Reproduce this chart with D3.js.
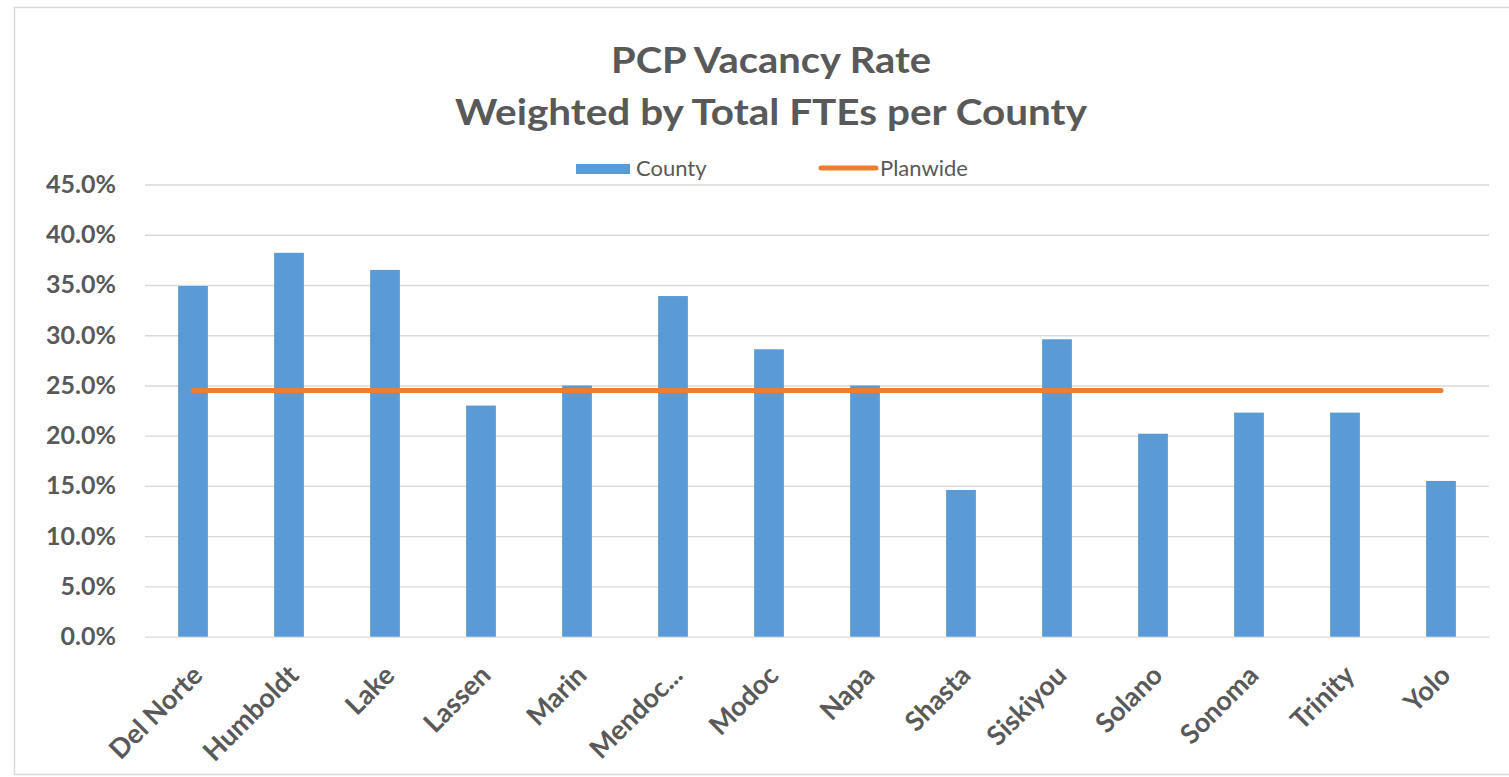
<!DOCTYPE html>
<html>
<head>
<meta charset="utf-8">
<script src="https://cdn.jsdelivr.net/npm/d3@7"></script>
<style>
  html, body { margin: 0; padding: 0; background: #ffffff; }
  svg { display: block; }
  text { font-family: Lato, "Open Sans", sans-serif; fill: #595959; }
</style>
</head>
<body>
<svg id="chart" width="1509" height="777"></svg>
<script>
// County-level PCP vacancy rates (percent) and the plan-wide rate
const counties = ["Del Norte", "Humboldt", "Lake", "Lassen", "Marin", "Mendoc...", "Modoc",
                  "Napa", "Shasta", "Siskiyou", "Solano", "Sonoma", "Trinity", "Yolo"];
const countyRate = [34.9, 38.2, 36.5, 23.0, 25.0, 33.9, 28.6, 25.0, 14.6, 29.6, 20.2, 22.3, 22.3, 15.5];
const planwideRate = [24.5, 24.5, 24.5, 24.5, 24.5, 24.5, 24.5, 24.5, 24.5, 24.5, 24.5, 24.5, 24.5, 24.5];
const yTicks = [0, 5, 10, 15, 20, 25, 30, 35, 40, 45];
const titleLines = ["PCP Vacancy Rate", "Weighted by Total FTEs per County"];
const seriesNames = ["County", "Planwide"];

const BLUE = "#5B9BD5";
const ORANGE = "#ED7D31";
const GRID = "#d9d9d9";

const svg = d3.select("#chart");

// chart frame
svg.append("rect")
  .attr("x", 14.5).attr("y", 7.5)
  .attr("width", 1520).attr("height", 767)
  .attr("fill", "none").attr("stroke", GRID).attr("stroke-width", 1.5);

const plot = { left: 145, right: 1489, top: 184.5, bottom: 636.7 };

const x = d3.scaleBand()
  .domain(counties)
  .range([plot.left, plot.right])
  .paddingInner(0.69)
  .paddingOuter(0.345);

const y = d3.scaleLinear()
  .domain([0, 45])
  .range([plot.bottom, plot.top]);

// gridlines + y tick labels
const yAxis = d3.axisLeft(y)
  .tickValues(yTicks)
  .tickSize(-(plot.right - plot.left))
  .tickPadding(29)
  .tickFormat(d => d.toFixed(1) + "%");

const gy = svg.append("g")
  .attr("transform", `translate(${plot.left},0)`)
  .call(yAxis);
gy.select(".domain").remove();
gy.selectAll(".tick line").attr("stroke", GRID).attr("stroke-width", 1.3);
gy.selectAll(".tick text")
  .attr("font-size", 25)
  .attr("font-weight", 700)
  .attr("fill", "#595959");

// bars
svg.append("g").selectAll("rect")
  .data(counties)
  .join("rect")
  .attr("x", d => x(d))
  .attr("width", x.bandwidth())
  .attr("y", (d, i) => y(countyRate[i]))
  .attr("height", (d, i) => y(0) - y(countyRate[i]))
  .attr("fill", BLUE);

// plan-wide line across category centres
const line = d3.line()
  .x((d, i) => x(counties[i]) + x.bandwidth() / 2)
  .y(d => y(d));
svg.append("path")
  .datum(planwideRate)
  .attr("d", line)
  .attr("fill", "none")
  .attr("stroke", ORANGE)
  .attr("stroke-width", 5)
  .attr("stroke-linecap", "round");

// x axis labels, rotated
const xAxis = d3.axisBottom(x).tickSize(0).tickPadding(0);
const gx = svg.append("g")
  .attr("transform", `translate(0,${plot.bottom})`)
  .call(xAxis);
gx.select(".domain").remove();
gx.selectAll(".tick text")
  .attr("font-size", 27)
  .attr("font-weight", 700)
  .attr("fill", "#595959")
  .attr("text-anchor", "end")
  .attr("dy", null)
  .attr("y", null)
  .attr("transform", "translate(-4,25) rotate(-45)")
  .attr("dominant-baseline", "hanging");

// title
const title = svg.append("g");
title.selectAll("text")
  .data(titleLines)
  .join("text")
  .attr("x", 771)
  .attr("y", (d, i) => 73 + i * 52)
  .attr("text-anchor", "middle")
  .attr("font-size", 36)
  .attr("font-weight", 700)
  .attr("textLength", (d, i) => [320, 632][i])
  .attr("lengthAdjust", "spacingAndGlyphs")
  .text(d => d);

// legend
const legend = svg.append("g");
legend.append("rect")
  .attr("x", 576).attr("y", 164).attr("width", 54).attr("height", 10)
  .attr("fill", BLUE);
legend.append("text")
  .attr("x", 636).attr("y", 176)
  .attr("font-size", 22)
  .text(seriesNames[0]);
legend.append("line")
  .attr("x1", 821).attr("x2", 876).attr("y1", 168).attr("y2", 168)
  .attr("stroke", ORANGE).attr("stroke-width", 5).attr("stroke-linecap", "round");
legend.append("text")
  .attr("x", 880).attr("y", 176)
  .attr("font-size", 22)
  .text(seriesNames[1]);
</script>
</body>
</html>
